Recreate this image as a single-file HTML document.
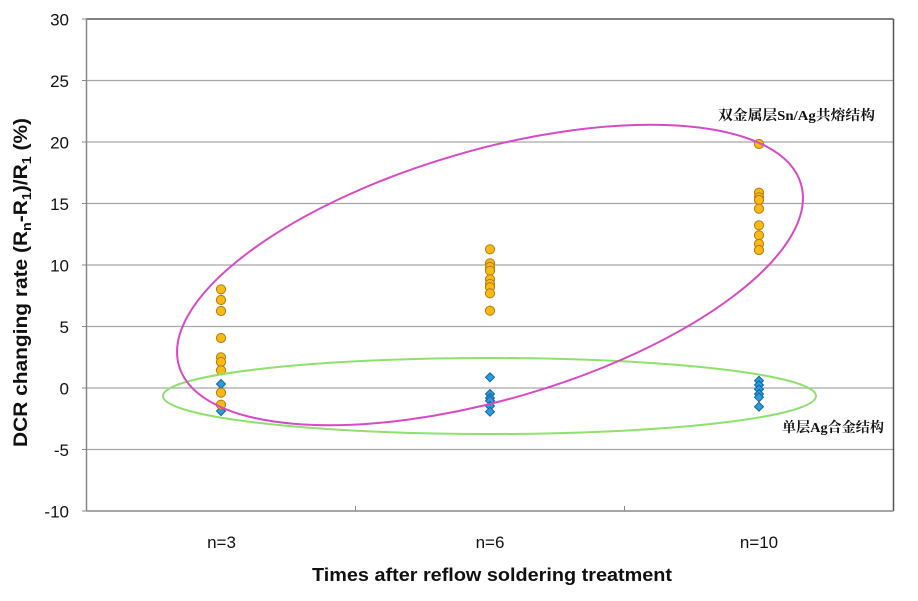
<!DOCTYPE html>
<html>
<head>
<meta charset="utf-8">
<style>
html,body{margin:0;padding:0;background:#fff;}
svg{display:block;}
</style>
</head>
<body>
<svg width="918" height="601" viewBox="0 0 918 601" xmlns="http://www.w3.org/2000/svg">
<rect x="0" y="0" width="918" height="601" fill="#ffffff"/>
<!-- gridlines -->
<g stroke="#a6a6a6" stroke-width="1.3">
<line x1="86.5" y1="80.5" x2="893.5" y2="80.5"/>
<line x1="86.5" y1="142" x2="893.5" y2="142"/>
<line x1="86.5" y1="203.5" x2="893.5" y2="203.5"/>
<line x1="86.5" y1="265" x2="893.5" y2="265"/>
<line x1="86.5" y1="326.5" x2="893.5" y2="326.5"/>
<line x1="86.5" y1="388" x2="893.5" y2="388"/>
<line x1="86.5" y1="449.5" x2="893.5" y2="449.5"/>
</g>
<!-- plot border -->
<line x1="86.5" y1="19" x2="893.5" y2="19" stroke="#555" stroke-width="1.5"/>
<line x1="893.5" y1="19" x2="893.5" y2="511" stroke="#555" stroke-width="1.5"/>
<line x1="86.5" y1="19" x2="86.5" y2="511" stroke="#888" stroke-width="1.5"/>
<line x1="86.5" y1="511" x2="893.5" y2="511" stroke="#888" stroke-width="1.5"/>
<!-- y ticks -->
<g stroke="#888" stroke-width="1">
<line x1="82" y1="19" x2="86.5" y2="19"/>
<line x1="82" y1="80.5" x2="86.5" y2="80.5"/>
<line x1="82" y1="142" x2="86.5" y2="142"/>
<line x1="82" y1="203.5" x2="86.5" y2="203.5"/>
<line x1="82" y1="265" x2="86.5" y2="265"/>
<line x1="82" y1="326.5" x2="86.5" y2="326.5"/>
<line x1="82" y1="388" x2="86.5" y2="388"/>
<line x1="82" y1="449.5" x2="86.5" y2="449.5"/>
<line x1="82" y1="511" x2="86.5" y2="511"/>
<line x1="355.5" y1="506" x2="355.5" y2="511"/>
<line x1="624.5" y1="506" x2="624.5" y2="511"/>
</g>
<!-- y labels -->
<g font-family="Liberation Sans, sans-serif" font-size="17" fill="#111" text-anchor="end">
<text x="69" y="25.5">30</text>
<text x="69" y="87">25</text>
<text x="69" y="148.5">20</text>
<text x="69" y="210">15</text>
<text x="69" y="271.5">10</text>
<text x="69" y="333">5</text>
<text x="69" y="394.5">0</text>
<text x="69" y="456">-5</text>
<text x="69" y="517.5">-10</text>
</g>
<!-- x labels -->
<g font-family="Liberation Sans, sans-serif" font-size="17" fill="#111" text-anchor="middle">
<text x="221.5" y="548">n=3</text>
<text x="490" y="548">n=6</text>
<text x="759" y="548">n=10</text>
</g>
<text x="312" y="581" font-family="Liberation Sans, sans-serif" font-size="18" font-weight="bold" fill="#111" textLength="360" lengthAdjust="spacingAndGlyphs">Times after reflow soldering treatment</text>
<!-- y title -->
<text transform="translate(27,282.5) rotate(-90)" x="0" y="0" text-anchor="middle" font-family="Liberation Sans, sans-serif" font-size="19" font-weight="bold" fill="#111" textLength="329" lengthAdjust="spacingAndGlyphs">DCR changing rate (R<tspan font-size="13" dy="4">n</tspan><tspan dy="-4">-R</tspan><tspan font-size="13" dy="4">1</tspan><tspan dy="-4">)/R</tspan><tspan font-size="13" dy="4">1</tspan><tspan dy="-4"> (%)</tspan></text>

<!-- diamonds -->
<g fill="#2a9de0" stroke="#14609c" stroke-width="1">
<path d="M221,379.5 l4.5,4.5 l-4.5,4.5 l-4.5,-4.5 z"/>
<path d="M221,406.5 l4.5,4.5 l-4.5,4.5 l-4.5,-4.5 z"/>
<path d="M490,372.8 l4.5,4.5 l-4.5,4.5 l-4.5,-4.5 z"/>
<path d="M490,389.5 l4.5,4.5 l-4.5,4.5 l-4.5,-4.5 z"/>
<path d="M490,393.5 l4.5,4.5 l-4.5,4.5 l-4.5,-4.5 z"/>
<path d="M490,396.2 l4.5,4.5 l-4.5,4.5 l-4.5,-4.5 z"/>
<path d="M490,401.5 l4.5,4.5 l-4.5,4.5 l-4.5,-4.5 z"/>
<path d="M490,407.2 l4.5,4.5 l-4.5,4.5 l-4.5,-4.5 z"/>
<path d="M759,376.2 l4.5,4.5 l-4.5,4.5 l-4.5,-4.5 z"/>
<path d="M759,380.5 l4.5,4.5 l-4.5,4.5 l-4.5,-4.5 z"/>
<path d="M759,384.8 l4.5,4.5 l-4.5,4.5 l-4.5,-4.5 z"/>
<path d="M759,389.5 l4.5,4.5 l-4.5,4.5 l-4.5,-4.5 z"/>
<path d="M759,392.8 l4.5,4.5 l-4.5,4.5 l-4.5,-4.5 z"/>
<path d="M759,402.2 l4.5,4.5 l-4.5,4.5 l-4.5,-4.5 z"/>
</g>
<!-- circles -->
<g fill="#fbb914" stroke="#b07a12" stroke-width="1">
<circle cx="221" cy="289.3" r="4.6"/>
<circle cx="221" cy="300" r="4.6"/>
<circle cx="221" cy="311" r="4.6"/>
<circle cx="221" cy="338" r="4.6"/>
<circle cx="221" cy="357.3" r="4.6"/>
<circle cx="221" cy="362" r="4.6"/>
<circle cx="221" cy="370.3" r="4.6"/>
<circle cx="221" cy="392.7" r="4.6"/>
<circle cx="221" cy="404.7" r="4.6"/>
<circle cx="490" cy="249.3" r="4.6"/>
<circle cx="490" cy="263.3" r="4.6"/>
<circle cx="490" cy="267" r="4.6"/>
<circle cx="490" cy="270.7" r="4.6"/>
<circle cx="490" cy="279.3" r="4.6"/>
<circle cx="490" cy="284" r="4.6"/>
<circle cx="490" cy="287.3" r="4.6"/>
<circle cx="490" cy="293.3" r="4.6"/>
<circle cx="490" cy="310.7" r="4.6"/>
<circle cx="759" cy="144" r="4.6"/>
<circle cx="759" cy="192.7" r="4.6"/>
<circle cx="759" cy="197.3" r="4.6"/>
<circle cx="759" cy="200" r="4.6"/>
<circle cx="759" cy="208.7" r="4.6"/>
<circle cx="759" cy="225.3" r="4.6"/>
<circle cx="759" cy="235.3" r="4.6"/>
<circle cx="759" cy="244" r="4.6"/>
<circle cx="759" cy="250" r="4.6"/>
</g>
<!-- ellipses -->
<ellipse cx="489.5" cy="396" rx="326.5" ry="38" fill="none" stroke="#8fe06c" stroke-width="2"/>
<ellipse cx="0" cy="0" rx="324" ry="124.6" fill="none" stroke="#d64ac4" stroke-width="2" transform="translate(490,275) rotate(-16.3)"/>
<!-- annotations -->
<text x="718" y="120" font-family="Liberation Serif, 'Noto Serif CJK SC', serif" font-size="14" font-weight="bold" fill="#111" textLength="157" lengthAdjust="spacingAndGlyphs">双金属层Sn/Ag共熔结构</text>
<text x="782" y="432" font-family="Liberation Serif, 'Noto Serif CJK SC', serif" font-size="14" font-weight="bold" fill="#111" textLength="102" lengthAdjust="spacingAndGlyphs">单层Ag合金结构</text>
</svg>
</body>
</html>
